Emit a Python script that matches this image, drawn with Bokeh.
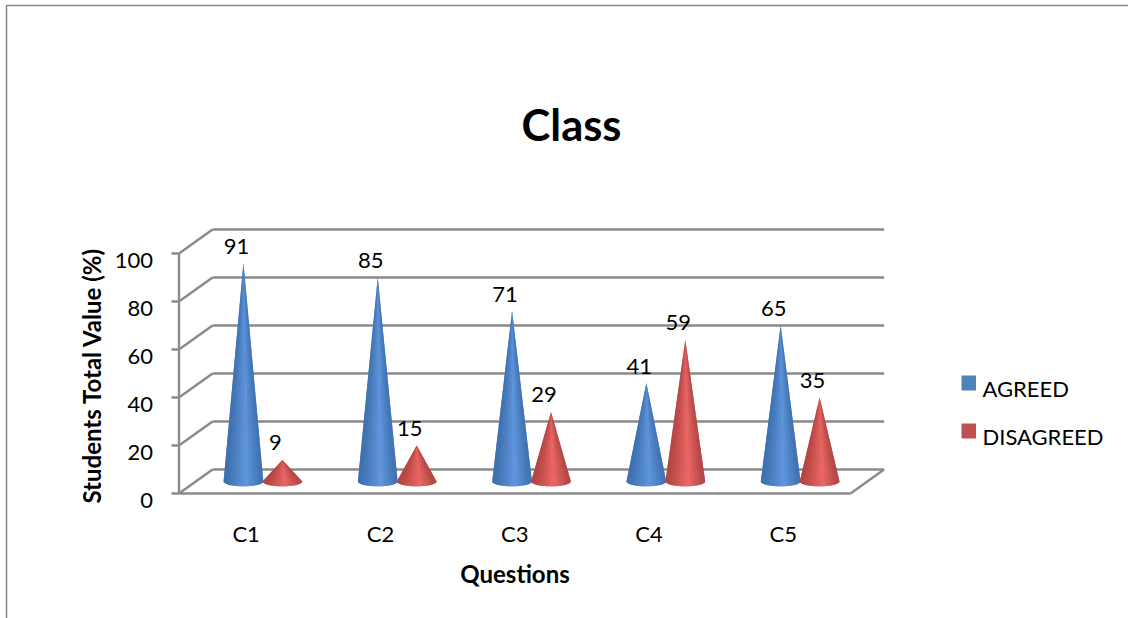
import numpy as np
from bokeh.embed import file_html
from bokeh.resources import INLINE
from bokeh.plotting import figure
from bokeh.models import FixedTicker, LinearAxis, Range1d
from bokeh.core.properties import value

# Survey results per question (percent of students)
categories = ["C1", "C2", "C3", "C4", "C5"]
agreed = [91, 85, 71, 41, 65]
disagreed = [9, 15, 29, 59, 35]
y_ticks = [0, 20, 40, 60, 80, 100]
series_names = ["AGREED", "DISAGREED"]
series_colors = ["#4f81bd", "#c0504d"]

W, H = 1128, 618
FONT = "Lato"
GREY = "#8a8a8a"

# Page geometry: one category spans PX_X pixels, one percent spans PX_Y pixels
ORIGIN_X, ORIGIN_Y = 178.5, 493.0
PX_X, PX_Y = 134.3, 2.4
DEPTH_X, DEPTH_Y = 0.25, 10.0      # oblique offset of the back wall
LABEL_SHIFT = 7.0                  # value labels sit this far under their tick


def dx(px):
    return (px - ORIGIN_X) / PX_X


def dy(py):
    return (ORIGIN_Y - py) / PX_Y


p = figure(width=W, height=H, output_backend="svg", toolbar_location=None,
           x_range=Range1d(dx(0), dx(W)), y_range=Range1d(dy(H), dy(0)),
           x_axis_location=None, y_axis_location=None, min_border=0,
           outline_line_color=None, background_fill_color="white",
           border_fill_color="white")
p.extra_y_ranges = {"tick_text": Range1d(dy(H - LABEL_SHIFT), dy(-LABEL_SHIFT))}

# Outer chart border
p.line([dx(1128), dx(6), dx(6)], [dy(5), dy(5), dy(618)], line_color=GREY, line_width=1.6)

# Back wall grid and its oblique connections to the front edge
n = len(categories)
p.segment(x0=[DEPTH_X] * len(y_ticks), x1=[n + DEPTH_X] * len(y_ticks),
          y0=[t + DEPTH_Y for t in y_ticks], y1=[t + DEPTH_Y for t in y_ticks],
          line_color=GREY, line_width=2.4)
p.segment(x0=[0] * len(y_ticks), x1=[DEPTH_X] * len(y_ticks),
          y0=y_ticks, y1=[t + DEPTH_Y for t in y_ticks],
          line_color=GREY, line_width=2.4)
# Floor edge on the right-hand side
p.segment(x0=[n], x1=[n + DEPTH_X], y0=[0], y1=[DEPTH_Y], line_color=GREY, line_width=2.4)

# Front wall edge and outward tick marks of the value scale
p.segment(x0=[0], x1=[0], y0=[0], y1=[max(y_ticks)], line_color=GREY, line_width=2.4)
p.segment(x0=[dx(171)] * len(y_ticks), x1=[0] * len(y_ticks), y0=y_ticks, y1=y_ticks,
          line_color=GREY, line_width=2.4)

# Value axis text runs on a slightly lowered scale
y_text = LinearAxis(fixed_location=0, y_range_name="tick_text",
                    ticker=FixedTicker(ticks=y_ticks), bounds=(0, 104),
                    axis_line_color=None, major_tick_line_color=None,
                    minor_tick_line_color=None, major_label_standoff=20,
                    major_label_text_font=FONT, major_label_text_font_size="22px",
                    major_label_text_color="black",
                    axis_label="Students Total Value (%)", axis_label_standoff=6,
                    axis_label_text_font=FONT, axis_label_text_font_style="bold",
                    axis_label_text_font_size="24px", axis_label_text_color="black")
p.add_layout(y_text, "left")

x_axis = LinearAxis(fixed_location=0, bounds=(0, n),
                    ticker=FixedTicker(ticks=[i + 0.5 for i in range(n)]),
                    major_label_overrides={i + 0.5: c for i, c in enumerate(categories)},
                    axis_line_color=GREY, axis_line_width=2.4,
                    major_tick_line_color=None, minor_tick_line_color=None,
                    major_label_standoff=20, major_label_text_font=FONT,
                    major_label_text_font_size="22px", major_label_text_color="black",
                    axis_label="Questions", axis_label_standoff=9,
                    axis_label_text_font=FONT, axis_label_text_font_style="bold",
                    axis_label_text_font_size="24px", axis_label_text_color="black")
p.add_layout(x_axis, "below")
p.grid.visible = False

BASE_Y = DEPTH_Y / 2              # cones stand midway on the floor
SERIES_OFFSET = 0.145
HALF_W = 0.148
BASE_RY = 2.0
WEDGES = 28


def shade(stops, t):
    rgb = [np.interp(t, [0, 0.58, 1], [s[c] for s in stops]) for c in range(3)]
    return "#%02x%02x%02x" % tuple(int(round(v)) for v in rgb)


def cone_shape(cx, v, stops):
    """Apex and front arc of a cone, plus its fan of shaded wedges."""
    angles = np.linspace(np.pi, 0, WEDGES + 1)
    ex = cx + HALF_W * np.cos(angles)
    ey = BASE_Y - BASE_RY * np.sin(angles)
    xs, ys, colors = [], [], []
    for k in range(WEDGES):
        xs.append([cx, ex[k], ex[k + 1]])
        ys.append([BASE_Y + v, ey[k], ey[k + 1]])
        colors.append(shade(stops, (ex[k] + ex[k + 1] - 2 * cx) / (4 * HALF_W) + 0.5))
    outline = ([cx] + list(ex), [BASE_Y + v] + list(ey))
    return outline, xs, ys, colors


BLUE = [(0x3a, 0x69, 0xa6), (0x60, 0x98, 0xde), (0x3c, 0x6c, 0xaa)]
RED = [(0xa8, 0x3f, 0x3d), (0xee, 0x69, 0x67), (0xa8, 0x42, 0x40)]

for values, offset, stops in ((agreed, -SERIES_OFFSET, BLUE), (disagreed, SERIES_OFFSET, RED)):
    for i, v in enumerate(values):
        cx = i + 0.5 + DEPTH_X / 2 + offset
        outline, xs, ys, colors = cone_shape(cx, v, stops)
        p.patch(outline[0], outline[1], fill_color=shade(stops, 0.35), line_color=None)
        p.patches(xs, ys, fill_color=colors, line_color=None)
    centers = [i + 0.5 + DEPTH_X / 2 + offset for i in range(n)]
    tops = [BASE_Y + v for v in values]
    p.text(centers, tops, text=[str(v) for v in values], x_offset=-7, y_offset=-17,
           text_align="center", text_baseline="middle", text_font=value(FONT),
           text_font_size="22px", text_color="black")

# Chart heading
p.text([dx(571)], [dy(123)], text=["Class"], text_align="center", text_baseline="middle",
       text_font=value(FONT), text_font_style="bold", text_font_size="43.5px",
       text_color="black")

# Key on the right: the swatches sit a little above the middle of their labels
key_rows = [375, 423]
p.quad(left=[dx(961)] * 2, right=[dx(975.5)] * 2,
       top=[dy(r) for r in key_rows], bottom=[dy(r + 15) for r in key_rows],
       fill_color=series_colors, line_color=None)
p.text([dx(982)] * 2, [dy(r + 13) for r in key_rows], text=series_names,
       text_align="left", text_baseline="middle", text_font=value(FONT),
       text_font_size="22px", text_color="black")

open("out.html", "w").write(file_html(p, INLINE))
